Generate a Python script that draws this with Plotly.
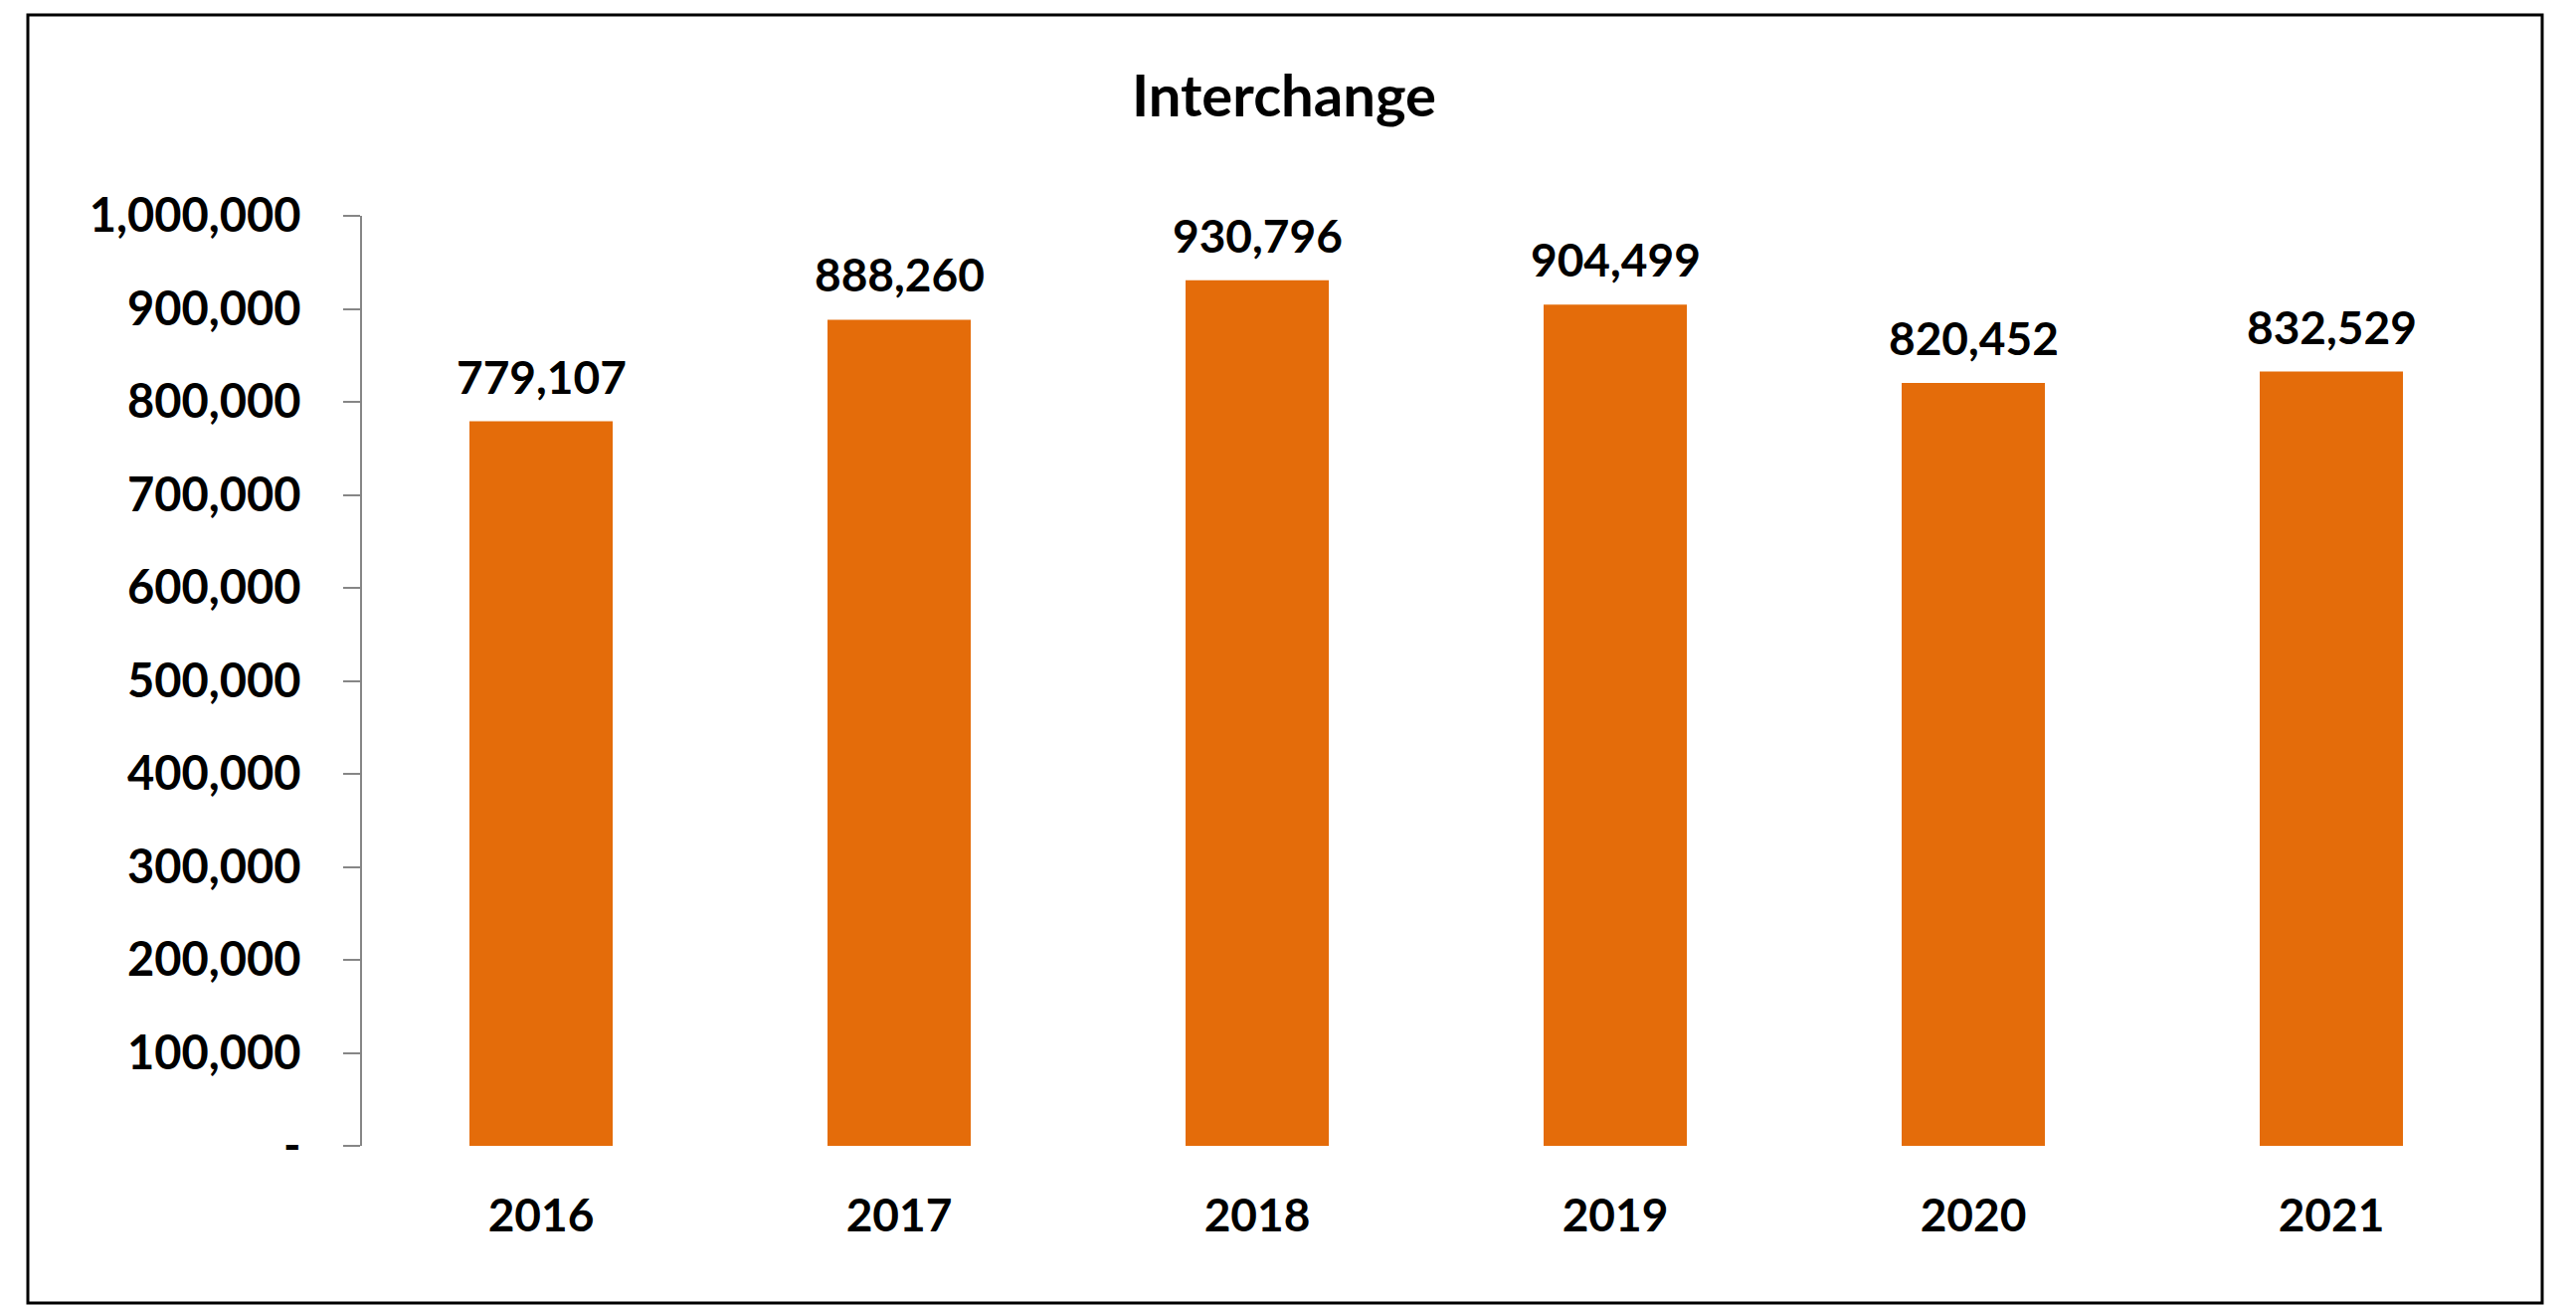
import plotly.graph_objects as go

years = ["2016", "2017", "2018", "2019", "2020", "2021"]
values = [779107, 888260, 930796, 904499, 820452, 832529]
tick_vals = [0, 100000, 200000, 300000, 400000, 500000, 600000, 700000, 800000, 900000, 1000000]
tick_text = ["-", "100,000", "200,000", "300,000", "400,000", "500,000", "600,000",
             "700,000", "800,000", "900,000", "1,000,000"]
title_text = "Interchange"

W, H = 2590, 1312
L, R, T, B = 364, 66, 217, 160
pw, ph = W - L - R, H - T - B

FONT = "Lato"
BAR_COLOR = "#E46C0A"

fig = go.Figure()
fig.add_trace(go.Bar(
    x=years, y=values, width=0.4,
    marker=dict(color=BAR_COLOR, line=dict(width=0)),
    hoverinfo="x+y",
))

# category axis: annotation x given as category index
for i, v in enumerate(values):
    fig.add_annotation(
        x=i, y=v, xref="x", yref="y",
        text=f"{v:,}", showarrow=False,
        yanchor="bottom", yshift=16,
        font=dict(family=FONT, size=46, color="black", weight="bold"),
    )

def px_x(p):
    return (p - L) / pw

def px_y(p):
    return (H - B - p) / ph

fig.add_shape(type="rect", xref="paper", yref="paper",
              x0=px_x(28), x1=px_x(2556), y0=px_y(1310), y1=px_y(15),
              line=dict(color="black", width=3), fillcolor="rgba(0,0,0,0)")

fig.update_layout(
    width=W, height=H,
    margin=dict(l=L, r=R, t=T, b=B, pad=0),
    paper_bgcolor="white", plot_bgcolor="white",
    showlegend=False,
    title=dict(text=title_text, x=1291 / W, xanchor="center", xref="container",
               y=1 - 97 / H, yanchor="middle", yref="container",
               font=dict(family=FONT, size=58, color="black", weight="bold")),
)
fig.update_xaxes(
    type="category", range=[-0.5, len(years) - 0.5],
    showline=False, showgrid=False, zeroline=False,
    ticks="outside", ticklen=30, tickcolor="rgba(0,0,0,0)",
    tickfont=dict(family=FONT, size=46, color="black", weight="bold"),
)
fig.update_yaxes(
    range=[0, 1000000], tickvals=tick_vals, ticktext=tick_text,
    showline=True, linecolor="#868686", linewidth=2,
    ticks="outside", ticklen=17, tickcolor="#868686", tickwidth=2,
    showgrid=False, zeroline=False,
    tickfont=dict(family=FONT, size=47, color="black", weight="bold"),
    ticklabelstandoff=33,
)

fig.write_html("out.html", config={"displayModeBar": False},
               post_script="document.body.style.margin='0px';")
